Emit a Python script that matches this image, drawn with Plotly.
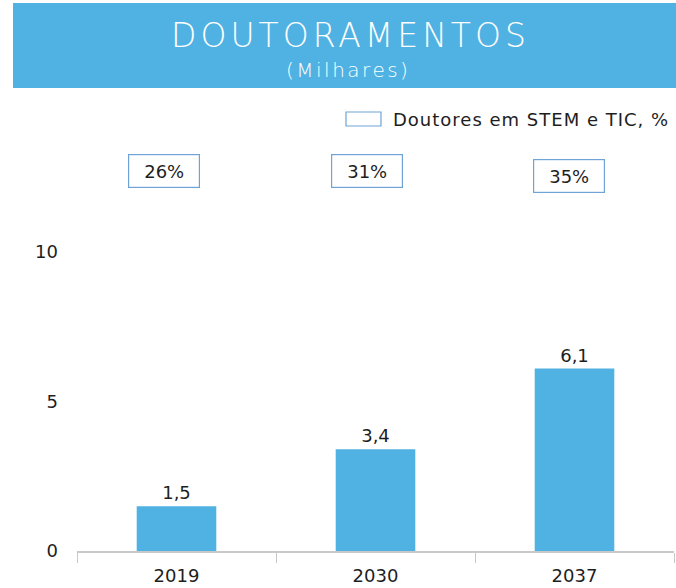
import plotly.graph_objects as go

years = ["2019", "2030", "2037"]
doutoramentos = [1.5, 3.4, 6.1]
stem_pct = ["26%", "31%", "35%"]
y_ticks = [0, 5, 10]

BLUE = "#50B2E2"
TXT = "#1e1e1e"
FONT = "DejaVu Sans"

fig = go.Figure()
fig.add_trace(go.Bar(
    x=years, y=doutoramentos,
    marker=dict(color=BLUE, line=dict(width=0)),
    texttemplate="%{y:.1f}", textposition="outside",
    textfont=dict(size=18, color=TXT, family=FONT),
    cliponaxis=False, showlegend=False, hoverinfo="skip",
))

L, R, T, B = 77, 2, 252, 37
W, H = 676, 588
pw, ph = W - L - R, H - T - B

def px(xp):
    return (xp - L) / pw

def py(yp):
    return (H - B - yp) / ph

def spaced(s, sp):
    return f'<span style="letter-spacing:{sp}px">{s}</span>'

shapes = [
    dict(type="rect", xref="paper", yref="paper", x0=px(13), x1=px(678), y0=py(88), y1=py(3),
         fillcolor=BLUE, line=dict(width=0), layer="below"),
    dict(type="rect", xref="paper", yref="paper", x0=px(346), x1=px(381), y0=py(126), y1=py(112),
         fillcolor="white", line=dict(color="#6fa3d6", width=1.2)),
]

annotations = [
    dict(text=spaced("DOUTORAMENTOS", 4), xref="paper", yref="paper", x=px(350), y=py(35), showarrow=False,
         font=dict(size=33, color="white", family=FONT, weight=200), xanchor="center", yanchor="middle"),
    dict(text=spaced("(Milhares)", 2.5), xref="paper", yref="paper", x=px(348), y=py(70), showarrow=False,
         font=dict(size=20, color="white", family=FONT, weight=200), xanchor="center", yanchor="middle"),
    dict(text=spaced("Doutores em STEM e TIC, %", 1), xref="paper", yref="paper", x=px(391), y=py(119),
         showarrow=False, font=dict(size=18, color=TXT, family=FONT), xanchor="left", yanchor="middle"),
]
box_y = [171, 171, 176]
box_shift = [-13, -9, -6]
for i, (pct, by, sh) in enumerate(zip(stem_pct, box_y, box_shift)):
    annotations.append(dict(
        text=pct, x=i, xref="x", yref="paper", y=py(by), showarrow=False, xshift=sh,
        font=dict(size=18, color=TXT, family=FONT), xanchor="center", yanchor="middle",
        bordercolor="#6fa3d6", borderwidth=1.2, borderpad=5, bgcolor="white",
        width=60, height=22,
    ))

fig.update_layout(
    width=W, height=H,
    margin=dict(l=L, r=R, t=T, b=B, autoexpand=False),
    plot_bgcolor="white", paper_bgcolor="white",
    separators=",.",
    bargap=0.6,
    font=dict(family=FONT, color=TXT, size=18),
    shapes=shapes, annotations=annotations,
    xaxis=dict(type="category", range=[-0.5, 2.5], showline=True, linecolor="#c9c9c9", linewidth=1.5,
               ticks="outside", tickson="boundaries", ticklen=10, tickcolor="#c9c9c9", tickwidth=1,
               tickfont=dict(size=18, color=TXT, family=FONT), ticklabelstandoff=8, showgrid=False),
    yaxis=dict(range=[0, 10], tickvals=y_ticks, showgrid=False, zeroline=False, showline=False,
               ticks="", tickfont=dict(size=18, color=TXT, family=FONT), ticklabelstandoff=18),
)

fig.write_html("out.html", config={"displayModeBar": False},
               post_script="document.body.style.margin='0';document.body.style.overflow='hidden';")
